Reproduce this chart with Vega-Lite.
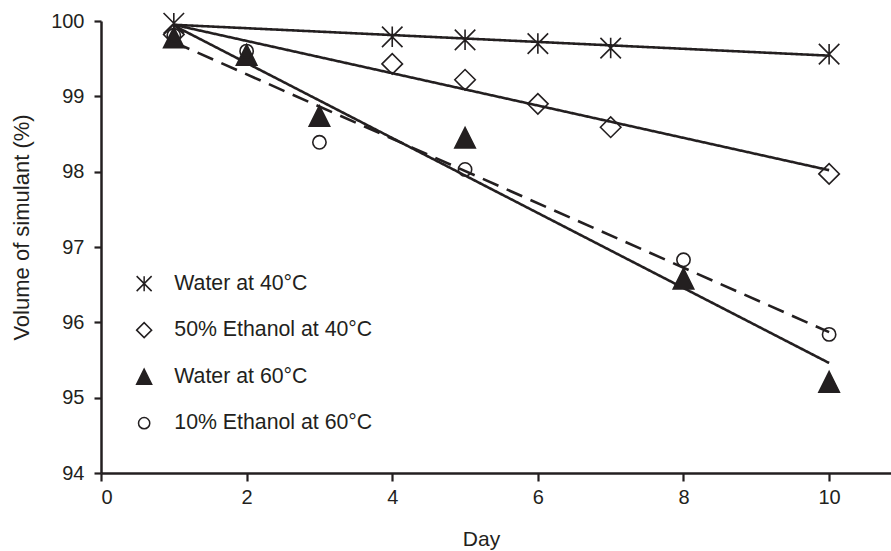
{
  "$schema": "https://vega.github.io/schema/vega-lite/v6.json",
  "autosize": "none",
  "width": 790,
  "height": 452,
  "padding": {"left": 101, "top": 21, "right": 0, "bottom": 78},
  "background": "white",
  "config": {
    "view": {"stroke": null},
    "font": "Liberation Sans",
    "axis": {
      "grid": false,
      "domainColor": "#231f20",
      "domainWidth": 2.5,
      "tickColor": "#231f20",
      "tickWidth": 2.2,
      "tickSize": 8,
      "labelFont": "Liberation Sans",
      "labelFontSize": 20,
      "labelColor": "#231f20",
      "titleFont": "Liberation Sans",
      "titleFontSize": 22,
      "titleFontWeight": "normal",
      "titleColor": "#231f20"
    }
  },
  "datasets": {
    "points": [
      {"series": "Water at 40°C", "day": 1, "volume": 99.97},
      {"series": "Water at 40°C", "day": 4, "volume": 99.79},
      {"series": "Water at 40°C", "day": 5, "volume": 99.75},
      {"series": "Water at 40°C", "day": 6, "volume": 99.70},
      {"series": "Water at 40°C", "day": 7, "volume": 99.64},
      {"series": "Water at 40°C", "day": 10, "volume": 99.56},
      {"series": "50% Ethanol at 40°C", "day": 1, "volume": 99.82},
      {"series": "50% Ethanol at 40°C", "day": 4, "volume": 99.43},
      {"series": "50% Ethanol at 40°C", "day": 5, "volume": 99.22},
      {"series": "50% Ethanol at 40°C", "day": 6, "volume": 98.90},
      {"series": "50% Ethanol at 40°C", "day": 7, "volume": 98.59},
      {"series": "50% Ethanol at 40°C", "day": 10, "volume": 97.97},
      {"series": "Water at 60°C", "day": 1, "volume": 99.78},
      {"series": "Water at 60°C", "day": 2, "volume": 99.55},
      {"series": "Water at 60°C", "day": 3, "volume": 98.74},
      {"series": "Water at 60°C", "day": 5, "volume": 98.45},
      {"series": "Water at 60°C", "day": 8, "volume": 96.58},
      {"series": "Water at 60°C", "day": 10, "volume": 95.21},
      {"series": "10% Ethanol at 60°C", "day": 1, "volume": 99.81},
      {"series": "10% Ethanol at 60°C", "day": 2, "volume": 99.60},
      {"series": "10% Ethanol at 60°C", "day": 3, "volume": 98.39},
      {"series": "10% Ethanol at 60°C", "day": 5, "volume": 98.03},
      {"series": "10% Ethanol at 60°C", "day": 8, "volume": 96.83},
      {"series": "10% Ethanol at 60°C", "day": 10, "volume": 95.84}
    ],
    "fits": [
      {"series": "Water at 40°C", "day": 1, "volume": 99.95},
      {"series": "Water at 40°C", "day": 10, "volume": 99.54},
      {"series": "50% Ethanol at 40°C", "day": 1, "volume": 99.95},
      {"series": "50% Ethanol at 40°C", "day": 10, "volume": 98.02},
      {"series": "Water at 60°C", "day": 1, "volume": 99.94},
      {"series": "Water at 60°C", "day": 10, "volume": 95.46},
      {"series": "10% Ethanol at 60°C", "day": 1, "volume": 99.72},
      {"series": "10% Ethanol at 60°C", "day": 10, "volume": 95.87}
    ]
  },
  "encoding": {
    "x": {
      "field": "day",
      "type": "quantitative",
      "scale": {"domain": [0, 10.85], "nice": false, "zero": false},
      "axis": {
        "values": [0, 2, 4, 6, 8, 10],
        "title": "Day",
        "labelPadding": 6,
        "titleX": 380,
        "titleY": 72,
        "titleFontSize": 21,
        "titleBaseline": "alphabetic",
        "titleAnchor": "start",
        "titleAlign": "center"
      }
    },
    "y": {
      "field": "volume",
      "type": "quantitative",
      "scale": {"domain": [94, 100], "nice": false, "zero": false},
      "axis": {
        "values": [94, 95, 96, 97, 98, 99, 100],
        "title": "Volume of simulant (%)",
        "tickSize": 7,
        "labelPadding": 10,
        "titleX": -73,
        "titleY": 206,
        "titleBaseline": "alphabetic",
        "titleAlign": "center",
        "titleAngle": -90
      }
    }
  },
  "layer": [
    {
      "data": {"name": "fits"},
      "mark": {"type": "line", "color": "#231f20", "strokeWidth": 2.6},
      "encoding": {
        "detail": {"field": "series"},
        "strokeDash": {
          "condition": {"test": "datum.series === '10% Ethanol at 60°C'", "value": [17, 9]},
          "value": [1, 0]
        }
      }
    },
    {
      "data": {"name": "points"},
      "mark": {"type": "point", "filled": false, "strokeWidth": 1.6, "opacity": 1},
      "encoding": {
        "shape": {
          "field": "series",
          "type": "nominal",
          "scale": {
            "domain": ["Water at 40°C", "50% Ethanol at 40°C", "Water at 60°C", "10% Ethanol at 60°C"],
            "range": [
              "M-1,-1L1,1M-1,1L1,-1M0,-1L0,1",
              "diamond",
              "M0,-1L-1,1L1,1Z",
              "M0.75,0A0.75,0.75,0,1,1,-0.75,0A0.75,0.75,0,1,1,0.75,0Z"
            ]
          },
          "legend": {
            "title": null,
            "orient": "none",
            "legendX": 32.5,
            "legendY": 252,
            "padding": 0,
            "symbolSize": 225,
            "symbolStrokeWidth": 1.5,
            "labelFont": "Liberation Sans",
            "labelFontSize": 21.3,
            "labelColor": "#231f20",
            "labelOffset": 19.5,
            "rowPadding": 23.5,
            "labelLimit": 400
          }
        },
        "fill": {
          "field": "series",
          "type": "nominal",
          "scale": {
            "domain": ["Water at 40°C", "50% Ethanol at 40°C", "Water at 60°C", "10% Ethanol at 60°C"],
            "range": ["transparent", "transparent", "#231f20", "transparent"]
          }
        },
        "stroke": {
          "field": "series",
          "type": "nominal",
          "scale": {
            "domain": ["Water at 40°C", "50% Ethanol at 40°C", "Water at 60°C", "10% Ethanol at 60°C"],
            "range": ["#231f20", "#231f20", "#231f20", "#231f20"]
          }
        },
        "size": {
          "condition": {"test": "datum.series === '10% Ethanol at 60°C'", "value": 315},
          "value": 420
        }
      }
    }
  ]
}
